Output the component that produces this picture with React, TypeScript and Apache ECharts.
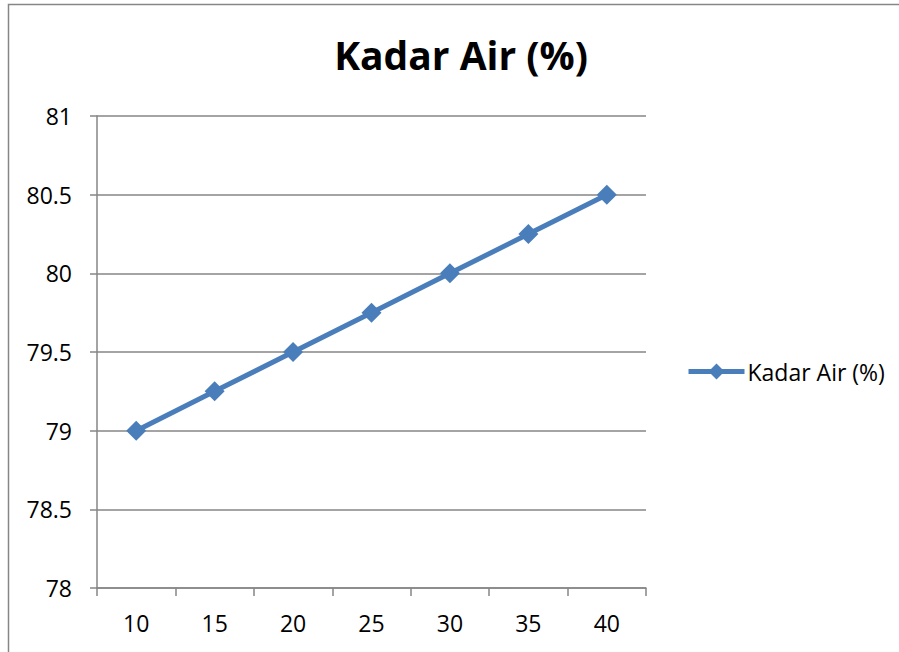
import React, { useEffect, useRef } from "react";
import * as echarts from "echarts";

const categories = ["10", "15", "20", "25", "30", "35", "40"];
const kadarAir = [79, 79.25, 79.5, 79.75, 80, 80.25, 80.5];
const seriesName = "Kadar Air (%)";
const titleText = "Kadar Air (%)";
const yMin = 78;
const yMax = 81;
const yStep = 0.5;

const FONT = "Open Sans";
const GRAY = "#868686";
const BLUE = "#4A7EBB";

export default function App() {
  const ref = useRef<HTMLDivElement>(null);
  useEffect(() => {
    if (!ref.current) return;
    const chart = echarts.init(ref.current, undefined, { renderer: "svg" });
    chart.setOption({
      animation: false,
      backgroundColor: "#ffffff",
      textStyle: { fontFamily: FONT },
      graphic: [
        {
          type: "rect",
          shape: { x: 8.5, y: 4.5, width: 920, height: 700 },
          style: { fill: "none", stroke: GRAY, lineWidth: 1.5 },
          silent: true,
        },
        {
          type: "text",
          x: 461,
          y: 54,
          style: {
            text: titleText,
            fontFamily: FONT,
            fontWeight: "bold",
            fontSize: 39,
            fill: "#000000",
            textAlign: "center",
            textVerticalAlign: "middle",
          },
        },
      ],
      legend: {
        left: 686,
        top: 360,
        padding: 0,
        orient: "vertical",
        itemWidth: 56,
        itemHeight: 20,
        lineStyle: { width: 5, color: BLUE },
        itemStyle: { color: BLUE },
        textStyle: { fontFamily: FONT, fontSize: 23, color: "#000000", padding: [0, 0, 0, -2] },
        data: [seriesName],
      },
      grid: { left: 97, top: 116, right: 253, bottom: 64, containLabel: false },
      xAxis: {
        type: "category",
        data: categories,
        boundaryGap: true,
        axisLine: { lineStyle: { color: GRAY, width: 1.5 } },
        axisTick: { show: true, length: 8, inside: false, lineStyle: { color: GRAY, width: 1.5 } },
        axisLabel: { fontFamily: FONT, fontSize: 23, color: "#000000", margin: 23 },
        splitLine: { show: false },
      },
      yAxis: {
        type: "value",
        min: yMin,
        max: yMax,
        interval: yStep,
        axisLine: { show: true, lineStyle: { color: GRAY, width: 1.5 } },
        axisTick: { show: true, length: 7, inside: false, lineStyle: { color: GRAY, width: 1.5 } },
        axisLabel: { fontFamily: FONT, fontSize: 23, color: "#000000", margin: 25 },
        splitLine: { show: true, lineStyle: { color: GRAY, width: 1.5 } },
      },
      series: [
        {
          name: seriesName,
          type: "line",
          data: kadarAir,
          symbol: "diamond",
          symbolSize: 20,
          showSymbol: true,
          lineStyle: { color: BLUE, width: 5 },
          itemStyle: { color: BLUE },
        },
      ],
    });
    return () => chart.dispose();
  }, []);
  return (
    <div
      ref={ref}
      style={{ position: "fixed", left: 0, top: 0, width: 899, height: 652 }}
    />
  );
}
